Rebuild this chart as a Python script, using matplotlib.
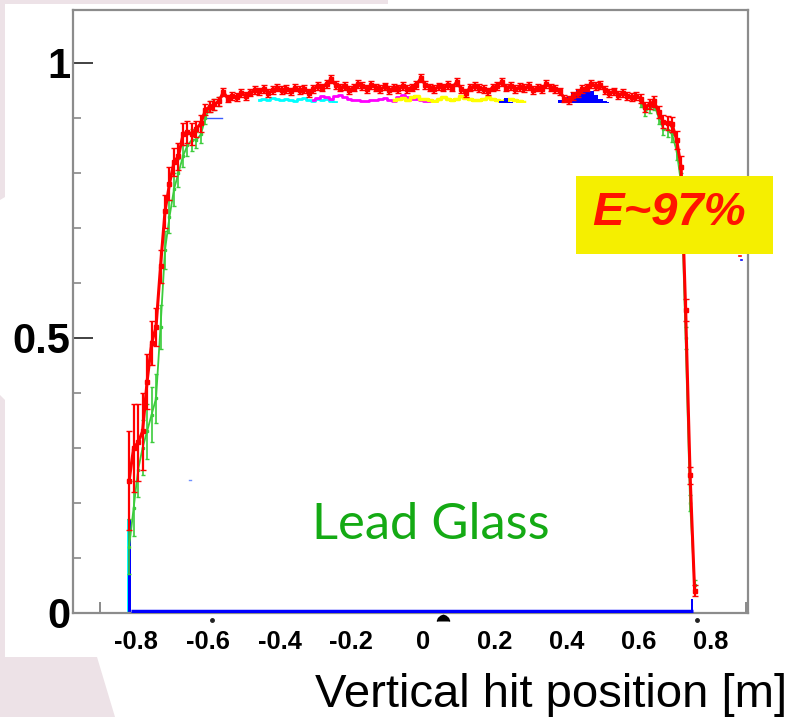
#!/usr/bin/env python

# plot-eff.py
# efficiency vs vertical hit position, lead glass layer
# overlay of run histograms, red = combined sample

import numpy as np
import matplotlib
matplotlib.use('Agg')
import matplotlib.pyplot as plt
from matplotlib.patches import Rectangle, Polygon

BIN_W = 0.0125

# combined sample (red), bins from -0.81875 upwards
red_left = [0.24, 0.30, 0.31, 0.33, 0.42, 0.49, 0.52, 0.63, 0.73, 0.78,
            0.82, 0.83, 0.87, 0.875, 0.87, 0.88, 0.89, 0.915, 0.92, 0.925,
            0.93]
red_left_err = [0.09, 0.08, 0.07, 0.07, 0.05, 0.04, 0.035, 0.03, 0.03, 0.03,
                0.025, 0.025, 0.02, 0.02, 0.02, 0.015, 0.015, 0.01, 0.01, 0.01,
                0.008]
red_mid = [0.947, 0.935, 0.940, 0.938, 0.945, 0.940, 0.946, 0.950, 0.948, 0.953,
           0.945, 0.950, 0.955, 0.950, 0.952, 0.948, 0.955, 0.950, 0.953, 0.945,
           0.952, 0.958, 0.955, 0.962, 0.970, 0.960, 0.955, 0.958, 0.950, 0.955,
           0.962, 0.958, 0.953, 0.960, 0.955, 0.952, 0.957, 0.950, 0.955, 0.953,
           0.958, 0.952, 0.955, 0.960, 0.972, 0.960, 0.955, 0.952, 0.957, 0.955,
           0.960, 0.955, 0.965, 0.953, 0.945, 0.955, 0.958, 0.954, 0.952, 0.948,
           0.955, 0.958, 0.965, 0.955, 0.958, 0.952, 0.956, 0.954, 0.958, 0.950,
           0.955, 0.953, 0.962, 0.955, 0.952, 0.948, 0.935, 0.932, 0.940, 0.945,
           0.952, 0.955, 0.962, 0.958, 0.960, 0.950, 0.945, 0.948, 0.942, 0.945,
           0.940, 0.938, 0.940]
red_mid_err = 0.007
red_right = [0.935, 0.92, 0.925, 0.93, 0.91, 0.893, 0.89, 0.888, 0.86, 0.81,
             0.55, 0.25, 0.04]
red_right_err = [0.008, 0.009, 0.009, 0.01, 0.011, 0.012, 0.013, 0.014, 0.016, 0.02,
                 0.02, 0.015, 0.01]

# green sample, only the two edges stick out from under the red
green_left = [0.12, 0.19, 0.26, 0.30, 0.33, 0.36, 0.39, 0.52, 0.66, 0.72,
              0.77, 0.80, 0.83, 0.85, 0.86, 0.86, 0.87, 0.90, 0.92, 0.925,
              0.93]
green_left_err = [0.05, 0.05, 0.05, 0.05, 0.05, 0.05, 0.045, 0.04, 0.035, 0.03,
                  0.03, 0.025, 0.02, 0.02, 0.02, 0.015, 0.015, 0.012, 0.01, 0.01,
                  0.008]
green_right = [0.928, 0.912, 0.918, 0.925, 0.90, 0.88, 0.878, 0.87, 0.84, 0.78,
               0.50, 0.20, 0.05]
green_right_err = [0.008, 0.009, 0.009, 0.01, 0.011, 0.012, 0.013, 0.014, 0.016, 0.02,
                   0.02, 0.015, 0.01]

# other runs along the plateau
cyan_start = -0.45625
cyan_y = [0.933, 0.935, 0.932, 0.936, 0.934, 0.932, 0.935, 0.933, 0.931, 0.934,
          0.936, 0.933, 0.930, 0.934, 0.932, 0.934, 0.931, 0.929]
magenta_start = -0.30625
magenta_y = [0.932, 0.936, 0.94, 0.937, 0.934, 0.94, 0.942, 0.938, 0.935, 0.933,
             0.932, 0.930, 0.931, 0.933, 0.932, 0.934, 0.936, 0.933, 0.931, 0.938,
             0.942, 0.937, 0.934, 0.935, 0.932, 0.931, 0.929, 0.928]
yellow_start = -0.08125
yellow_y = [0.932, 0.934, 0.936, 0.933, 0.937, 0.939, 0.935, 0.934, 0.932, 0.931,
            0.935, 0.937, 0.934, 0.932, 0.935, 0.939, 0.936, 0.934, 0.932, 0.933,
            0.935, 0.937, 0.934, 0.932, 0.931, 0.932, 0.934, 0.933, 0.931, 0.929]
blue_start = 0.20625
blue_y = [0.926, 0.930, 0.936, 0.928, 0.926, 0.925, 0.926, 0.925, 0.926, 0.925,
          0.926, 0.925, 0.926, 0.927, 0.932, 0.935, 0.938, 0.945, 0.952, 0.950,
          0.953, 0.948, 0.942, 0.935, 0.930, 0.928]

# first bin at the lower edge
edge_blue = 0.17
edge_cyan = 0.17

x_ticks = [-0.8, -0.6, -0.4, -0.2, 0, 0.2, 0.4, 0.6, 0.8]
x_ticklabels = ['-0.8', '-0.6', '-0.4', '-0.2', '0', '0.2', '0.4', '0.6', '0.8']
y_ticks = [0, 0.5, 1]
y_ticklabels = ['0', '0.5', '1']


def centers(start, n):
    return start + BIN_W * np.arange(n)


W, H = 792, 717
fig = plt.figure(figsize=(W / 100, H / 100), dpi=100)
fig.patch.set_facecolor('white')

# slide background showing at the left edge
pink = '#ede2e7'
for pts in ([(0, 0), (388, 0), (388, 4), (5, 4), (5, 197), (0, 200)],
            [(0, 395), (5, 400), (5, 657), (97, 657), (115, 717), (0, 717)]):
    fig.patches.append(Polygon([(px, H - py) for px, py in pts], closed=True,
                               transform=None, facecolor=pink, edgecolor='none',
                               zorder=0))

ax = fig.add_axes([73 / W, 1 - 613 / H, (748 - 73) / W, (613 - 10) / H])
ax.set_xlim(-0.975, 0.905)
ax.set_ylim(0, 1.096)

# plateau of the other runs
x = centers(cyan_start, len(cyan_y))
ax.step(x, cyan_y, where='mid', color='cyan', lw=2, zorder=2)
x = centers(magenta_start, len(magenta_y))
ax.step(x, magenta_y, where='mid', color='magenta', lw=2, zorder=2)
x = centers(yellow_start, len(yellow_y))
ax.step(x, yellow_y, where='mid', color='yellow', lw=2.5, zorder=2)
x = centers(blue_start, len(blue_y))
ax.fill_between(x, 0, blue_y, step='mid', color='blue', lw=0, zorder=2)

# lower edge spike
ax.bar(-0.8215, edge_cyan, width=0.004, color='cyan', zorder=2)
ax.bar(-0.8175, edge_blue, width=0.008, color='blue', zorder=2.5)

# blank out the inside of the plateau
ax.add_patch(Rectangle((-0.561, 0.006), 0.523 + 0.561, 0.9275 - 0.006,
                       facecolor='white', edgecolor='none', zorder=3))
ax.add_patch(Rectangle((-0.608, 0.006), 0.047, 0.90 - 0.006,
                       facecolor='white', edgecolor='none', zorder=3))
ax.plot([-0.608, -0.561], [0.90, 0.90], color='#3a5cff', lw=1, zorder=3.2)

# zero line of the blue run
ax.plot([-0.8135, 0.752], [0.003, 0.003], color='blue', lw=2.5, zorder=3.5,
        solid_capstyle='butt')
ax.bar(0.7495, 0.025, width=0.006, color='blue', zorder=3.5)

# stray bits
ax.plot([-0.653, -0.645], [0.242, 0.242], color='#7090ff', lw=1, zorder=3.5)
ax.plot([0.879, 0.886], [0.648, 0.648], color='red', lw=1.2, zorder=3.5)
ax.plot([0.886, 0.889], [0.642, 0.642], color='blue', lw=1.2, zorder=3.5)

# green sample
x = centers(-0.81875, len(green_left))
ax.errorbar(x, green_left, yerr=green_left_err, color='#3ccc3c', lw=1.3,
            elinewidth=1.2, capsize=1.5, marker='s', ms=2, zorder=4)
x = centers(0.60625, len(green_right))
ax.errorbar(x, green_right, yerr=green_right_err, color='#3ccc3c', lw=1.3,
            elinewidth=1.2, capsize=1.5, marker='s', ms=2, zorder=4)

# combined sample on top
red_y = np.array(red_left + red_mid + red_right)
red_err = np.array(red_left_err + [red_mid_err] * len(red_mid) + red_right_err)
x = centers(-0.81875, len(red_y))
ax.errorbar(x, red_y, yerr=red_err, color='red', lw=2.2, elinewidth=1.6,
            capsize=2, marker='s', ms=3.5, zorder=5)

# frame and ticks
for s in ax.spines.values():
    s.set_color('#8c8c8c')
    s.set_linewidth(1.6)
ax.set_xticks(x_ticks)
ax.set_xticklabels(x_ticklabels, fontfamily='Liberation Sans', fontweight='bold',
                   fontsize=18.4)
ax.set_xticks([-0.9, 0.9], minor=True)
ax.set_yticks(y_ticks)
ax.set_yticklabels(y_ticklabels, fontfamily='Liberation Sans', fontweight='bold',
                   fontsize=30)
ax.set_yticks([0.1, 0.2, 0.3, 0.4, 0.6, 0.7, 0.8, 0.9], minor=True)
ax.tick_params(axis='x', which='major', length=0, pad=12)
ax.tick_params(axis='x', which='minor', direction='in', length=8, width=1.2,
               color='#777777')
ax.tick_params(axis='y', which='major', direction='in', length=14.4, width=1.3,
               color='#333333', pad=2)
ax.tick_params(axis='y', which='minor', direction='in', length=6, width=1.2,
               color='#888888')

# marks under the axis
dome = [(-1, 0), (-0.8, 0.5), (-0.4, 0.85), (0, 1), (0.4, 0.85), (0.8, 0.5), (1, 0)]
ax.plot([0.056], [-0.014], marker=dome, ms=9, color='black', clip_on=False,
        zorder=6)
ax.plot([-0.588, 0.763], [-0.012, -0.012], ls='none', marker='o', ms=2.5,
        color='#222222', clip_on=False, zorder=6)

fig.text(312 / W, 1 - 539 / H, 'Lead Glass', color='#14aa14', fontfamily='Lato',
         fontsize=36.5, ha='left', va='baseline')

# efficiency box
fig.patches.append(Rectangle((576, H - 254), 773 - 576, 254 - 176, transform=None,
                             facecolor='#f5ef00', edgecolor='none', zorder=5))
fig.text(669 / W, 1 - 225 / H, 'E~97%', color='#ff1400',
         fontfamily='Liberation Sans', fontweight='bold', fontstyle='italic',
         fontsize=34, ha='center', va='baseline', zorder=6)

fig.text(787 / W, 1 - 707 / H, 'Vertical hit position [m]', color='black',
         fontfamily='Liberation Sans', fontsize=34, ha='right', va='baseline')

fig.savefig('out.png', dpi=100, facecolor=fig.get_facecolor())
